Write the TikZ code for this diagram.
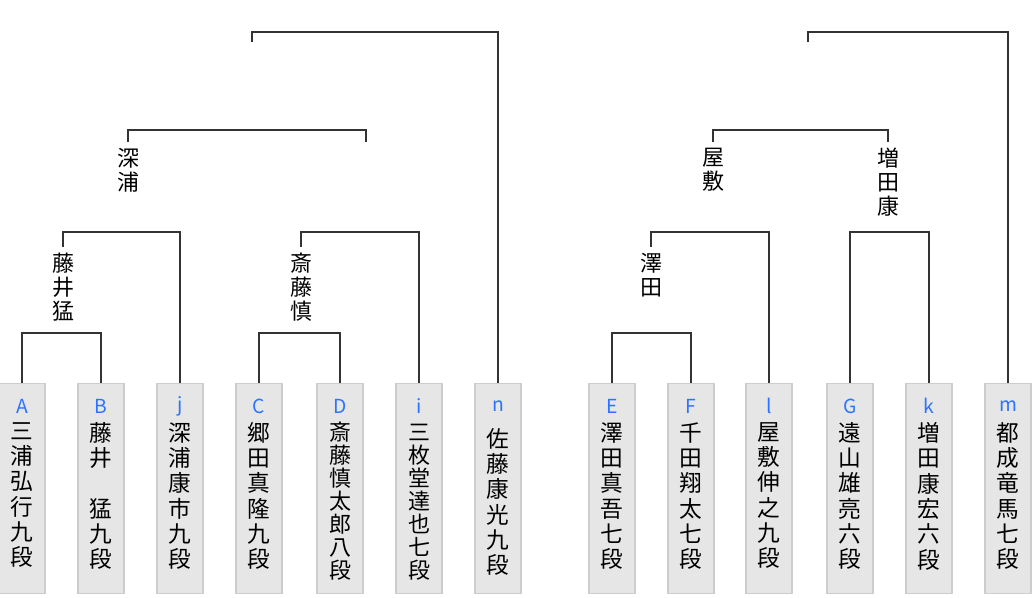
\documentclass[tikz,border=0pt]{standalone}
\usepackage{fontspec}
\newfontfamily\jpfont{Noto Sans CJK JP}
\usetikzlibrary{positioning, calc}
\definecolor{linecolor} {RGB}{51, 51, 51}
\definecolor{boxfill}   {RGB}{230, 230, 230}
\definecolor{boxdraw}   {RGB}{205, 205, 205}
\definecolor{seedcolor} {RGB}{45, 115, 255}
\tikzset{
	playerbox/.style={
		rectangle, anchor=north,
		fill=boxfill, draw=boxdraw, line width=0.8pt,
		minimum width=34.5pt, minimum height=157.5pt, inner sep=0pt
	},
	seedlabel/.style={
		font=\jpfont\fontsize{14.5}{14.5}\selectfont,
		text=seedcolor, inner sep=0pt
	},
	namecol/.style={
		anchor=north, align=center, inner sep=0pt,
		font=\jpfont\fontsize{17}{19}\selectfont
	},
	longname/.style={
		namecol, font=\jpfont\fontsize{16.5}{17.2}\selectfont
	},
	winner/.style={
		anchor=north, align=center, inner xsep=0pt, inner ysep=4.5pt,
		font=\jpfont\fontsize{16.5}{18}\selectfont
	},
	bracket/.style={
		draw=linecolor, line width=1.1pt
	}
}

\begin{document}
\begin{tikzpicture}[x=0.75pt, y=-0.75pt]
		\useasboundingbox (0,0) rectangle (1032,597);
		
		%% ═══════════════════════════════
		%%  PLAYERS — left half
		%% ═══════════════════════════════
		\node[playerbox] (A) at (22,383)  {};
		\node[seedlabel] (A-seed) at (22,406) {A};
		\node[namecol]   (A-name) at (22,422) {三\\浦\\弘\\行\\九\\段};
		
		\node[playerbox] (B) at (101,383) {};
		\node[seedlabel] (B-seed) at (101,406) {B};
		\node[namecol]   (B-name) at (101,422) {藤\\井\\　\\猛\\九\\段};
		
		\node[playerbox] (j) at (180,383) {};
		\node[seedlabel] (j-seed) at (180,406) {j};
		\node[namecol]   (j-name) at (180,422) {深\\浦\\康\\市\\九\\段};
		
		\node[playerbox] (C) at (259,383) {};
		\node[seedlabel] (C-seed) at (259,406) {C};
		\node[namecol]   (C-name) at (259,422) {郷\\田\\真\\隆\\九\\段};
		
		\node[playerbox] (D) at (340,383) {};
		\node[seedlabel] (D-seed) at (340,406) {D};
		\node[longname]  (D-name) at (340,422) {斎\\藤\\慎\\太\\郎\\八\\段};
		
		\node[playerbox] (i) at (419,383) {};
		\node[seedlabel] (i-seed) at (419,406) {i};
		\node[longname]  (i-name) at (419,424) {三\\枚\\堂\\達\\也\\七\\段};
		
		\node[playerbox] (n) at (498,383) {};
		\node[seedlabel] (n-seed) at (498,406) {n};
		\node[namecol]   (n-name) at (498,428) {佐\\藤\\康\\光\\九\\段};
		
		%% ═══════════════════════════════
		%%  PLAYERS — right half
		%% ═══════════════════════════════
		\node[playerbox] (E) at (612,383) {};
		\node[seedlabel] (E-seed) at (612,406) {E};
		\node[namecol]   (E-name) at (612,422) {澤\\田\\真\\吾\\七\\段};
		
		\node[playerbox] (F) at (691,383) {};
		\node[seedlabel] (F-seed) at (691,406) {F};
		\node[namecol]   (F-name) at (691,422) {千\\田\\翔\\太\\七\\段};
		
		\node[playerbox] (l) at (769,383) {};
		\node[seedlabel] (l-seed) at (769,406) {l};
		\node[namecol]   (l-name) at (769,422) {屋\\敷\\伸\\之\\九\\段};
		
		\node[playerbox] (G) at (850,383) {};
		\node[seedlabel] (G-seed) at (850,406) {G};
		\node[namecol]   (G-name) at (850,422) {遠\\山\\雄\\亮\\六\\段};
		
		\node[playerbox] (k) at (929,383) {};
		\node[seedlabel] (k-seed) at (929,406) {k};
		\node[namecol]   (k-name) at (929,422) {増\\田\\康\\宏\\六\\段};
		
		\node[playerbox] (m) at (1008,383) {};
		\node[seedlabel] (m-seed) at (1008,406) {m};
		\node[namecol]   (m-name) at (1008,422) {都\\成\\竜\\馬\\七\\段};
		
		%% ═══════════════════════════════
		%%  WINNERS so far
		%% ═══════════════════════════════
		\node[winner] (AB-win) at (63,247)  {藤\\井\\猛};
		\node[winner] (CD-win) at (301,247) {斎\\藤\\慎};
		\node[winner] (EF-win) at (651,247) {澤\\田};
		\node[winner] (Aj-win) at (128,142) {深\\浦};
		\node[winner] (El-win) at (713,142) {屋\\敷};
		\node[winner] (Gk-win) at (888,142) {増\\田\\康};
		
		% open ends (no winner yet)
		\coordinate (Ci-open) at (366,142);
		\coordinate (Ai-open) at (252,42);
		\coordinate (Ek-open) at (808,42);
		
		% bracket corners
		\coordinate (AB-mid) at (61,333);
		\coordinate (CD-mid) at (300,333);
		\coordinate (EF-mid) at (651,333);
		\coordinate (Aj-mid) at (121,232);
		\coordinate (Ci-mid) at (360,232);
		\coordinate (El-mid) at (710,232);
		\coordinate (Gk-mid) at (889,232);
		\coordinate (Ai-mid) at (247,130);
		\coordinate (Ek-mid) at (800,130);
		\coordinate (An-mid) at (375,32);
		\coordinate (Em-mid) at (907,32);
		
		%% ═══════════════════════════════
		%%  BRACKETS
		%% ═══════════════════════════════
		
		% round 1
		\draw[bracket] (A.north) |- (AB-mid) -| (B.north);
		\draw[bracket] (C.north) |- (CD-mid) -| (D.north);
		\draw[bracket] (E.north) |- (EF-mid) -| (F.north);
		
		% round 2
		\draw[bracket] (AB-win.north) |- (Aj-mid) -| (j.north);
		\draw[bracket] (CD-win.north) |- (Ci-mid) -| (i.north);
		\draw[bracket] (EF-win.north) |- (El-mid) -| (l.north);
		\draw[bracket] (G.north)      |- (Gk-mid) -| (k.north);
		
		% round 3
		\draw[bracket] (Aj-win.north) |- (Ai-mid) -| (Ci-open);
		\draw[bracket] (El-win.north) |- (Ek-mid) -| (Gk-win.north);
		
		% final of each block
		\draw[bracket] (Ai-open) |- (An-mid) -| (n.north);
		\draw[bracket] (Ek-open) |- (Em-mid) -| (m.north);
	\end{tikzpicture}
\end{document}
